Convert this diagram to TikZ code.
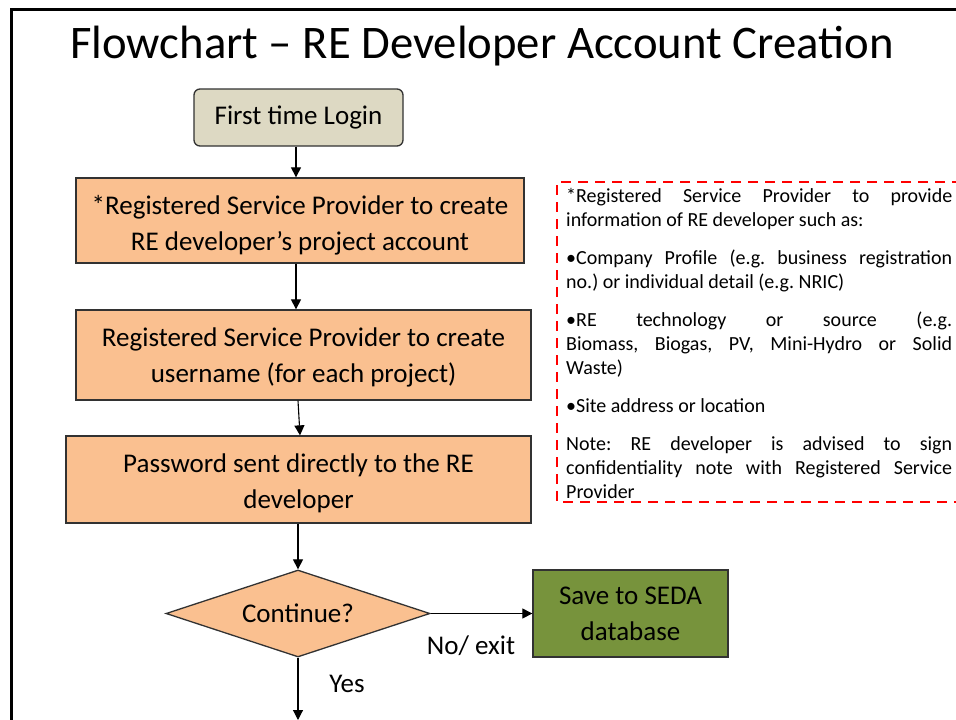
\documentclass[tikz,border=0pt]{standalone}
\usepackage{fontspec}
\setmainfont{Carlito}
\usetikzlibrary{shapes.geometric,arrows.meta}
\definecolor{orbox}{RGB}{250,192,144}
\definecolor{tanbox}{RGB}{221,217,195}
\definecolor{grbox}{RGB}{119,147,60}
\definecolor{edge}{RGB}{50,50,50}
\tikzset{
  bigfont/.style={font=\fontsize{27}{36}\selectfont},
  procbox/.style={draw=edge, line width=1.3pt, fill=orbox, inner sep=0pt, align=center, bigfont},
  flow/.style={-{Triangle[length=10pt,width=10pt]}, line width=1.1pt, black},
}
\begin{document}
\frenchspacing
\begin{tikzpicture}[x=1pt,y=-1pt]
\useasboundingbox (0,0) rectangle (956,720);
\fill[white] (0,0) rectangle (956,720);
% frame
\draw[line width=3pt] (11,722) -- (11,9) -- (958,9);
% title
\node[font=\fontsize{46.7}{50}\selectfont, anchor=base] (title) at (482,58) {Flowchart – RE Developer Account Creation};
% nodes
\node[draw=edge, line width=1.3pt, fill=tanbox, rounded corners=6pt, minimum width=209pt, minimum height=57pt, inner sep=0pt, bigfont] (login) at (298.5,117.5) {First time Login};
\node[procbox, minimum width=448pt, minimum height=85pt] (b1) at (300,220.5) {\rule{0pt}{29pt}*Registered Service Provider to create\\RE developer’s project account};
\node[procbox, minimum width=455pt, minimum height=90pt] (b2) at (303.5,355) {\rule{0pt}{24pt}Registered Service Provider to create\\username (for each project)};
\node[procbox, minimum width=465pt, minimum height=87pt] (b3) at (298.5,479.5) {\rule{0pt}{26pt}Password sent directly to the RE\\developer};
\node[diamond, shape aspect=3, draw=edge, line width=1.3pt, fill=orbox, minimum width=264pt, minimum height=87pt, inner sep=0pt, bigfont] (dec) at (298,613.5) {Continue?};
\node[draw=edge, line width=1.3pt, fill=grbox, minimum width=195pt, minimum height=87pt, inner sep=0pt, align=center, bigfont] (seda) at (630.5,613.5) {Save to SEDA\\database};
\coordinate (end) at (298,720);
% connectors
\draw[flow] (login.south -| 296,0) -- (b1.north -| 296,0);
\draw[flow] (b1.south -| 296,0) -- (b2.north -| 296,0);
\draw[flow] (b2.south -| 298,0) -- (b3.north -| 300,0);
\draw[flow] (b3.south -| 298,0) -- (dec.north);
\draw[flow] (dec.east) -- (seda.west);
\draw[flow] (dec.south) -- (end);
\node[bigfont, anchor=base] (no) at (471,654) {No/ exit};
\node[bigfont, anchor=base] (yes) at (347,692) {Yes};
% note
\draw[red, line width=2.8pt, dash pattern=on 10pt off 7pt] (962,182) -- (557,182) -- (557,502) -- (962,502);
\node[anchor=north west, text width=386pt, align=justify, inner sep=0pt, font=\fontsize{20}{24}\selectfont] (note) at (566,188) {%
\setlength{\parskip}{14pt}\hyphenpenalty=10000\exhyphenpenalty=10000
*Registered Service Provider to provide\linebreak information of RE developer such as:\par
•Company Profile (e.g. business registration\linebreak no.) or individual detail (e.g. NRIC)\par
•RE technology or source (e.g.\linebreak Biomass, Biogas, PV, Mini-Hydro or Solid\linebreak Waste)\par
•Site address or location\par
Note: RE developer is advised to sign\linebreak confidentiality note with Registered Service\linebreak Provider};
\end{tikzpicture}
\end{document}
